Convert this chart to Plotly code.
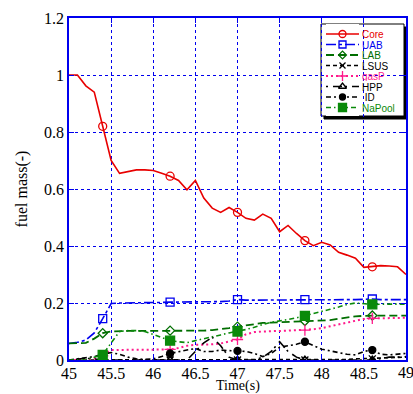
import plotly.graph_objects as go

time = [45.0, 45.1, 45.2, 45.3, 45.4, 45.5, 45.6, 45.7, 45.8, 45.9,
        46.0, 46.1, 46.2, 46.3, 46.4, 46.5, 46.6, 46.7, 46.8, 46.9,
        47.0, 47.1, 47.2, 47.3, 47.4, 47.5, 47.6, 47.7, 47.8, 47.9,
        48.0, 48.1, 48.2, 48.3, 48.4, 48.5, 48.6, 48.7, 48.8, 48.9, 49.0]

core = [1.0, 1.0, 0.962, 0.94, 0.82, 0.70, 0.655, 0.66, 0.667, 0.667,
        0.665, 0.655, 0.645, 0.63, 0.597, 0.63, 0.568, 0.533, 0.518, 0.535,
        0.518, 0.497, 0.491, 0.512, 0.497, 0.45, 0.472, 0.444, 0.419, 0.401,
        0.413, 0.404, 0.378, 0.368, 0.357, 0.325, 0.327, 0.331, 0.33, 0.327, 0.30]

uab = [0.058, 0.062, 0.07, 0.095, 0.145, 0.198, 0.2, 0.2, 0.2, 0.201,
       0.201, 0.202, 0.203, 0.203, 0.203, 0.204, 0.204, 0.205, 0.205, 0.207,
       0.212, 0.21, 0.21, 0.21, 0.21, 0.21, 0.21, 0.211, 0.212, 0.211,
       0.211, 0.211, 0.212, 0.212, 0.212, 0.213, 0.214, 0.212, 0.212, 0.212, 0.212]

lab = [0.058, 0.058, 0.06, 0.075, 0.094, 0.10, 0.102, 0.102, 0.102, 0.102,
       0.102, 0.102, 0.103, 0.103, 0.103, 0.103, 0.103, 0.105, 0.108, 0.112,
       0.117, 0.122, 0.127, 0.13, 0.131, 0.132, 0.134, 0.136, 0.137, 0.138,
       0.139, 0.14, 0.145, 0.15, 0.153, 0.155, 0.156, 0.156, 0.156, 0.156, 0.156]

lsus = [0.0, 0.0, 0.0, 0.0, 0.0, 0.0, 0.0, 0.0, 0.0, 0.0,
        0.0, 0.0, 0.0, 0.0, 0.0, 0.0, 0.0, 0.0, 0.0, 0.0,
        0.0, 0.0, 0.0, 0.0, 0.0, 0.0, 0.0, 0.0, 0.0, 0.0,
        0.0, 0.0, 0.0, 0.002, 0.004, 0.005, 0.004, 0.005, 0.006, 0.007, 0.01]

gasp = [0.0, 0.0, 0.0, 0.005, 0.015, 0.035, 0.036, 0.036, 0.036, 0.036,
        0.037, 0.037, 0.037, 0.042, 0.05, 0.053, 0.053, 0.055, 0.058, 0.064,
        0.072, 0.09, 0.098, 0.1, 0.1, 0.102, 0.103, 0.104, 0.105, 0.108,
        0.112, 0.118, 0.125, 0.131, 0.138, 0.144, 0.146, 0.147, 0.148, 0.148, 0.148]

hpp = [0.0, 0.004, 0.006, 0.004, 0.0, 0.0, 0.0, 0.0, 0.0, 0.0,
       0.0, 0.0, 0.0, 0.0, 0.0, 0.03, 0.06, 0.08, 0.05, 0.01,
       0.0, 0.0, 0.0, 0.01, 0.03, 0.064, 0.03, 0.01, 0.0, 0.0,
       0.0, 0.0, 0.0, 0.0, 0.0, 0.0, 0.0, 0.005, 0.01, 0.01, 0.012]

id_ = [0.0, 0.004, 0.008, 0.012, 0.02, 0.026, 0.02, 0.01, 0.004, 0.002,
       0.004, 0.012, 0.023, 0.03, 0.035, 0.04, 0.03, 0.03, 0.035, 0.033,
       0.032, 0.03, 0.023, 0.012, 0.023, 0.045, 0.05, 0.055, 0.064, 0.05,
       0.038, 0.032, 0.025, 0.02, 0.018, 0.03, 0.035, 0.02, 0.018, 0.02, 0.023]

napool = [0.0, 0.0, 0.0, 0.01, 0.018, 0.06, 0.1, 0.103, 0.103, 0.1,
          0.09, 0.08, 0.068, 0.064, 0.061, 0.068, 0.074, 0.08, 0.088, 0.095,
          0.1, 0.107, 0.115, 0.125, 0.132, 0.136, 0.142, 0.148, 0.155, 0.162,
          0.17, 0.178, 0.186, 0.195, 0.2, 0.198, 0.195, 0.196, 0.196, 0.196, 0.196]

marker_idx = [4, 12, 20, 28, 36]

x_ticks = [45, 45.5, 46, 46.5, 47, 47.5, 48, 48.5, 49]
x_ticktext = ["45", "45.5", "46", "46.5", "47", "47.5", "48", "48.5", "49"]
y_ticks = [0, 0.2, 0.4, 0.6, 0.8, 1, 1.2]
y_ticktext = ["0", "0.2", "0.4", "0.6", "0.8", "1", "1.2"]

names = ["Core", "UAB", "LAB", "LSUS", "gasP", "HPP", "ID", "NaPool"]
series = [core, uab, lab, lsus, gasp, hpp, id_, napool]
colors = ["#e80000", "#0000f0", "#006e00", "#000000", "#ff1a8c", "#000000", "#000000", "#0a8a0a"]
dashes = ["solid", "10px,3px,3px,3px", "8px,4px", "4px,3px", "2px,3px",
          "2px,5px,9px,3px", "5px,3px,2px,3px", "5px,3px,1.5px,3px"]
widths = [1.6, 1.6, 1.8, 1.6, 2.0, 1.6, 1.6, 1.6]
symbols = ["circle-open", "square-open", "diamond-open", "x-thin-open",
           "cross-thin-open", "triangle-up-open", "circle", "square"]
msizes = [8, 8, 7, 7, 8, 8, 7, 9]

SERIF = "Liberation Serif, Times New Roman, serif"

fig = go.Figure()

draw_order = [1, 2, 3, 4, 5, 6, 7, 0]
for k in draw_order:
    v = series[k]
    fig.add_trace(go.Scatter(
        x=time, y=v, mode="lines", showlegend=False, hoverinfo="skip",
        line=dict(color=colors[k], width=widths[k], dash=dashes[k])))
    fig.add_trace(go.Scatter(
        x=[time[i] for i in marker_idx], y=[v[i] for i in marker_idx],
        mode="markers", showlegend=False, hoverinfo="skip",
        marker=dict(symbol=symbols[k], size=msizes[k], color=colors[k],
                    line=dict(color=colors[k], width=1.3))))

# ---- manual legend (pixel-based overlay axes) ----
L, R, T, B = 69, 406, 18, 360
W, H = R - L, B - T
def px(x):
    return (x - L) / W
def py(y):
    return (B - y) / H

box = (321, 24, 404, 116)
fig.add_shape(type="rect", xref="paper", yref="paper",
              x0=px(box[0] + 3), x1=px(box[2] + 3), y0=py(box[3] + 3), y1=py(box[1] + 3),
              fillcolor="black", line=dict(color="black", width=1), layer="between")
fig.add_shape(type="rect", xref="paper", yref="paper",
              x0=px(box[0]), x1=px(box[2]), y0=py(box[3]), y1=py(box[1]),
              fillcolor="white", line=dict(color="black", width=1), layer="between")

rows = [34, 44.5, 55, 65.5, 76, 86.5, 97, 107.5]
for k in range(len(names)):
    fig.add_trace(go.Scatter(
        x=[0, 1], y=[rows[k], rows[k]], xaxis="x2", yaxis="y2", mode="lines",
        showlegend=False, hoverinfo="skip",
        line=dict(color=colors[k], width=widths[k], dash=dashes[k])))
    fig.add_trace(go.Scatter(
        x=[0.5], y=[rows[k]], xaxis="x2", yaxis="y2", mode="markers",
        showlegend=False, hoverinfo="skip",
        marker=dict(symbol=symbols[k], size=msizes[k] - 1, color=colors[k],
                    line=dict(color=colors[k], width=1.3))))
    fig.add_annotation(x=px(361), y=rows[k], xref="paper", yref="y2",
                       text=(" " + names[k]) if names[k] == "ID" else names[k],
                       showarrow=False, xanchor="left", yanchor="middle",
                       borderpad=0, height=10,
                       font=dict(family="Liberation Sans Narrow, Liberation Sans, Arial",
                                 size=10, color=colors[k]))

# last x tick label (at the page edge in the reference)
fig.add_annotation(x=x_ticks[-1], y=py(372), xref="x", yref="paper", text=x_ticktext[-1],
                   showarrow=False, xanchor="center", yanchor="middle",
                   font=dict(family=SERIF, size=16, color="black"))
# x-axis title at the bottom edge
fig.add_annotation(x=0.5, y=py(395), xref="paper", yref="paper", text="Time(s)",
                   showarrow=False, xanchor="center", yanchor="bottom", borderpad=0,
                   font=dict(family=SERIF, size=14, color="black"))

axis_common = dict(showline=True, linecolor="#0000ee", linewidth=1.5, mirror="ticks",
                   ticks="inside", ticklen=5, tickcolor="#0000ee", tickwidth=1,
                   showgrid=True, gridcolor="#0000ee", griddash="dot", gridwidth=1,
                   zeroline=False, automargin=False,
                   tickfont=dict(family=SERIF, size=16, color="black"))

fig.update_layout(
    width=413, height=394,
    margin=dict(l=L, r=413 - R, t=T, b=394 - B),
    paper_bgcolor="white", plot_bgcolor="white",
    showlegend=False,
    xaxis=dict(range=[45, 49], tickvals=x_ticks,
               ticktext=x_ticktext[:-1] + [""], ticklabelstandoff=-2,
               **axis_common),
    yaxis=dict(range=[0, 1.2], tickvals=y_ticks, ticktext=y_ticktext,
               title=dict(text="fuel mass(-)", standoff=12,
                          font=dict(family=SERIF, size=16, color="black")),
               **axis_common),
    xaxis2=dict(domain=[px(326), px(359)], range=[0, 1], visible=False, anchor="y2",
                fixedrange=True),
    yaxis2=dict(domain=[py(box[3]), py(box[1])], range=[box[3], box[1]], visible=False,
                anchor="x2", fixedrange=True),
)

fig.write_html("out.html")
